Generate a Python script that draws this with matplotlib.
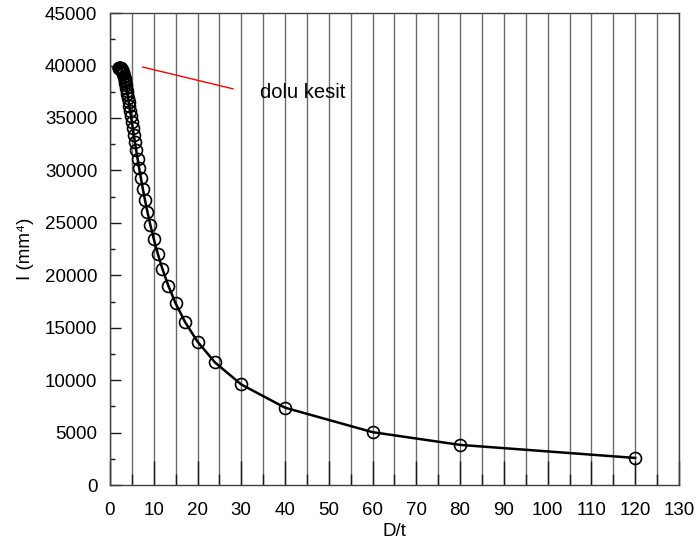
"""Moment of inertia of a hollow round section against D/t."""

import matplotlib

matplotlib.use("Agg")
import matplotlib.pyplot as plt  # noqa: E402
from matplotlib.ticker import MultipleLocator  # noqa: E402

plt.rcParams["font.family"] = ["Liberation Sans", "DejaVu Sans"]
plt.rcParams["font.size"] = 13.5

# D/t ratio and second moment of area I (mm^4)
d_over_t = [
    2.000, 2.034, 2.069, 2.105, 2.143, 2.182, 2.222, 2.264, 2.308, 2.353,
    2.400, 2.449, 2.500, 2.553, 2.609, 2.667, 2.727, 2.791, 2.857, 2.927,
    3.000, 3.077, 3.158, 3.243, 3.333, 3.429, 3.529, 3.636, 3.750, 3.871,
    4.000, 4.138, 4.286, 4.444, 4.615, 4.800, 5.000, 5.217, 5.455, 5.714,
    6.000, 6.316, 6.667, 7.059, 7.500, 8.000, 8.571, 9.231, 10.000, 10.909,
    12.000, 13.333, 15.000, 17.143, 20.000, 24.000, 30.000, 40.000, 60.000,
    80.000, 120.000,
]
inertia = [
    39761, 39761, 39761, 39761, 39760, 39759, 39757, 39754, 39748, 39741,
    39730, 39716, 39697, 39673, 39643, 39606, 39560, 39505, 39439, 39361,
    39270, 39164, 39042, 38902, 38743, 38563, 38359, 38131, 37875, 37591,
    37276, 36928, 36544, 36123, 35661, 35157, 34608, 34011, 33364, 32663,
    31907, 31092, 30214, 29272, 28262, 27180, 26024, 24790, 23475, 22075,
    20586, 19006, 17329, 15553, 13674, 11687, 9589, 7375, 5042,
    3829, 2585,
]

# pointer line to the solid-section end and its label
pointer_x = [7.5, 28.1]
pointer_y = [39850, 37780]
note_xy = (34.3, 37400)
note_text = "dolu kesit"

fig = plt.figure(figsize=(6.96, 5.45), dpi=100)
ax = fig.add_axes([0.158, 0.110, 0.8175, 0.866])

ax.plot(d_over_t, inertia, color="black", lw=1.8, marker="o", ms=8.6,
        mfc="none", mec="black", mew=1.2, zorder=3)
ax.plot(pointer_x, pointer_y, color="red", lw=1.0, zorder=3)
ax.text(note_xy[0], note_xy[1], note_text, va="center", ha="left",
        fontsize=14.5)

ax.set_xlim(0, 130)
ax.set_ylim(0, 45000)
ax.xaxis.set_major_locator(MultipleLocator(10))
ax.xaxis.set_minor_locator(MultipleLocator(5))
ax.yaxis.set_major_locator(MultipleLocator(5000))
ax.yaxis.set_minor_locator(MultipleLocator(2500))

ax.grid(axis="x", which="both", color="0.42", lw=1.0)
ax.set_axisbelow(True)

ax.tick_params(axis="x", which="major", direction="in", length=17,
               width=1, color="0.1", pad=12)
ax.tick_params(axis="x", which="minor", direction="in", length=8,
               width=1, color="0.1")
ax.tick_params(axis="y", which="major", direction="in", length=8,
               width=1, color="0.1", pad=9)
ax.tick_params(axis="y", which="minor", direction="in", length=3.6,
               width=1, color="0.1")
for side in ax.spines.values():
    side.set_color("0.25")
    side.set_linewidth(1.0)

ax.set_xlabel("D/t", labelpad=3)
ax.set_ylabel("I (mm\u2074)", labelpad=8)

fig.savefig("out.png", dpi=100)
plt.close(fig)
